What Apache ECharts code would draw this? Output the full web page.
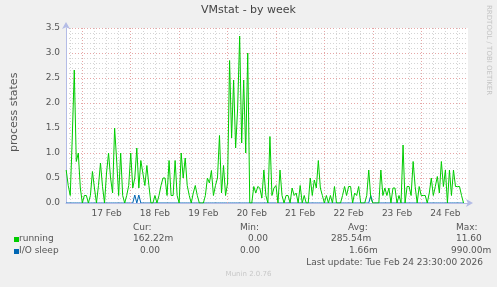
<!DOCTYPE html>
<html><head><meta charset="utf-8">
<script src="https://cdn.jsdelivr.net/npm/echarts@6/dist/echarts.min.js"></script>
<style>html,body{margin:0;padding:0;background:#f0f0f0}#c{width:497px;height:287px}</style>
</head><body><div id="c"></div>
<script>
// hours relative to 17 Feb 00:00, one value per hour starting at -8 (16 Feb 16:00)
const startHour = -8;
const running = [
0.66,0.35,0.15,1.3,2.66,0.83,1.0,0.3,
0.0,0.15,0.15,0.0,0.15,0.63,0.3,0.0,0.35,0.8,0.33,0.0,0.6,1.0,0.5,0.2,1.5,0.86,0.15,1.0,0.15,0.0,0.15,0.35,
1.0,0.3,0.5,1.1,0.3,0.85,0.6,0.35,0.75,0.35,0.0,0.0,0.15,0.0,0.15,0.35,0.5,0.5,0.15,0.85,0.15,0.15,0.85,0.15,
0.0,1.0,0.5,0.9,0.35,0.15,0.0,0.2,0.35,0.15,0.0,0.0,0.0,0.15,0.5,0.4,0.65,0.15,0.35,0.5,1.35,0.2,0.75,0.15,
0.4,2.85,1.3,2.46,1.1,1.9,3.34,1.2,2.46,1.0,3.0,0.0,0.0,0.33,0.2,0.33,0.3,0.1,0.66,0.15,0.0,1.33,0.15,0.3,
0.35,0.0,0.66,0.15,0.0,0.15,0.15,0.0,0.3,0.15,0.2,0.0,0.35,0.0,0.15,0.0,0.0,0.5,0.15,0.46,0.3,0.85,0.3,0.15,
0.0,0.15,0.0,0.15,0.0,0.33,0.0,0.0,0.0,0.15,0.33,0.15,0.33,0.33,0.0,0.2,0.15,0.33,0.0,0.0,0.0,0.15,0.66,0.1,
0.0,0.0,0.0,0.0,0.66,0.15,0.3,0.15,0.3,0.0,0.3,0.3,0.0,0.15,0.0,1.16,0.0,0.33,0.33,0.15,0.83,0.33,0.0,0.33,
0.15,0.15,0.15,0.0,0.2,0.5,0.15,0.33,0.53,0.2,0.83,0.33,0.66,0.0,0.66,0.15,0.66,0.33,0.33,0.33,0.15,0.0,null,null
];
const ioSleep = running.map(function(v, i){ return v === null ? null : 0; });
const ioBlips = { 34: 0.16, 36: 0.16, 151: 0.15 }; // index -> value
Object.keys(ioBlips).forEach(function(k){ ioSleep[+k] = ioBlips[k]; });
const dayLabels = ['17 Feb','18 Feb','19 Feb','20 Feb','21 Feb','22 Feb','23 Feb','24 Feb'];

const dayStarts = dayLabels.map(function(_, i){ return i * 24; });
const dayNoons = dayLabels.map(function(_, i){ return i * 24 + 12; });
const sixHours = [];
for (let h = -6; h <= 186; h += 6) sixHours.push(h);

function pairs(arr){ return arr.map(function(v, i){ return [startHour + i, v]; }); }

const FONT = 'DejaVu Sans';
const chart = echarts.init(document.getElementById('c'), null, {renderer:'canvas'});
const axisBlue = '#b4bce6';
chart.setOption({
  animation: false,
  backgroundColor: '#f0f0f0',
  grid: { left: 66, right: 29, top: 28, bottom: 84, show: true, backgroundColor: '#ffffff', borderWidth: 0 },
  xAxis: [
    { type: 'value', min: -8.1, max: 191.2, z: 3,
      axisLine: { show: true, onZero: false, lineStyle: { color: axisBlue, width: 1 }, symbol: ['none','arrow'], symbolSize: [6,7], symbolOffset: [0,5] },
      axisTick: { show: false, customValues: dayStarts },
      axisLabel: { customValues: dayNoons, color: '#555', fontFamily: FONT, fontSize: 9, margin: 6,
        formatter: function(v){ return dayLabels[Math.round((v - 12) / 24)]; } },
      splitLine: { show: true, lineStyle: { color: '#e6a6a6', type: [1,2], width: 1 } } },
    { type: 'value', min: -8.1, max: 191.2, z: 1,
      axisLine: { show: false }, axisLabel: { show: false },
      axisTick: { show: false, customValues: sixHours },
      splitLine: { show: true, lineStyle: { color: '#d4d4d4', type: [1,2], width: 1 } } }
  ],
  yAxis: { type: 'value', min: 0, max: 3.5, interval: 0.5,
    axisLine: { show: true, onZero: false, lineStyle: { color: axisBlue, width: 1 }, symbol: ['none','arrow'], symbolSize: [6,7], symbolOffset: [0,6] },
    axisTick: { show: false },
    axisLabel: { color: '#555', fontFamily: FONT, fontSize: 9, margin: 6, formatter: function(v){ return v.toFixed(1); } },
    splitLine: { show: true, lineStyle: { color: '#e6a6a6', type: [1,2], width: 1 } },
    minorTick: { show: false, splitNumber: 5 },
    minorSplitLine: { show: true, lineStyle: { color: '#d4d4d4', type: [1,2], width: 1 } } },
  series: [
    { name: 'I/O sleep', type: 'line', data: pairs(ioSleep), showSymbol: false, z: 2,
      lineStyle: { color: '#0066b3', width: 1 }, itemStyle: { color: '#0066b3' } },
    { name: 'running', type: 'line', data: pairs(running), showSymbol: false, z: 3,
      lineStyle: { color: '#00cc00', width: 1 }, itemStyle: { color: '#00cc00' } }
  ],
  graphic: [
    { type: 'text', left: 'center', top: 5, style: { text: 'VMstat - by week', fill: '#444', font: '11px "DejaVu Sans"' } },
    { type: 'text', x: 9, y: 152, rotation: Math.PI/2, style: { text: 'process states', fill: '#555', font: '11px "DejaVu Sans"' } },
    { type: 'text', x: 492, y: 5, rotation: -Math.PI/2, style: { text: 'RRDTOOL / TOBI OETIKER', fill: '#c4c4c4', font: '7px "DejaVu Sans"' } },
    { type: 'text', x: 133, y: 223, style: { text: 'Cur:', fill: '#555', font: '9px "DejaVu Sans"' } },
    { type: 'text', x: 240, y: 223, style: { text: 'Min:', fill: '#555', font: '9px "DejaVu Sans"' } },
    { type: 'text', x: 348, y: 223, style: { text: 'Avg:', fill: '#555', font: '9px "DejaVu Sans"' } },
    { type: 'text', x: 456, y: 223, style: { text: 'Max:', fill: '#555', font: '9px "DejaVu Sans"' } },
    { type: 'rect', shape: { x: 14, y: 237, width: 5, height: 5 }, style: { fill: '#00cc00' } },
    { type: 'text', x: 19, y: 234.5, style: { text: 'running', fill: '#555', font: '9px "DejaVu Sans"' } },
    { type: 'text', x: 133, y: 234.5, style: { text: '162.22m', fill: '#555', font: '9px "DejaVu Sans"' } },
    { type: 'text', x: 248, y: 234.5, style: { text: '0.00', fill: '#555', font: '9px "DejaVu Sans"' } },
    { type: 'text', x: 331, y: 234.5, style: { text: '285.54m', fill: '#555', font: '9px "DejaVu Sans"' } },
    { type: 'text', x: 456, y: 234.5, style: { text: '11.60', fill: '#555', font: '9px "DejaVu Sans"' } },
    { type: 'rect', shape: { x: 14, y: 249, width: 5, height: 5 }, style: { fill: '#0066b3' } },
    { type: 'text', x: 19, y: 246.5, style: { text: 'I/O sleep', fill: '#555', font: '9px "DejaVu Sans"' } },
    { type: 'text', x: 140, y: 246.5, style: { text: '0.00', fill: '#555', font: '9px "DejaVu Sans"' } },
    { type: 'text', x: 240, y: 246.5, style: { text: '0.00', fill: '#555', font: '9px "DejaVu Sans"' } },
    { type: 'text', x: 349, y: 246.5, style: { text: '1.66m', fill: '#555', font: '9px "DejaVu Sans"' } },
    { type: 'text', x: 451, y: 246.5, style: { text: '990.00m', fill: '#555', font: '9px "DejaVu Sans"' } },
    { type: 'text', right: 14, top: 258.5, style: { text: 'Last update: Tue Feb 24 23:30:00 2026', fill: '#555', font: '9px "DejaVu Sans"' } },
    { type: 'text', left: 'center', top: 271, style: { text: 'Munin 2.0.76', fill: '#c8c8c8', font: '7px "DejaVu Sans"' } }
  ]
});
</script></body></html>
